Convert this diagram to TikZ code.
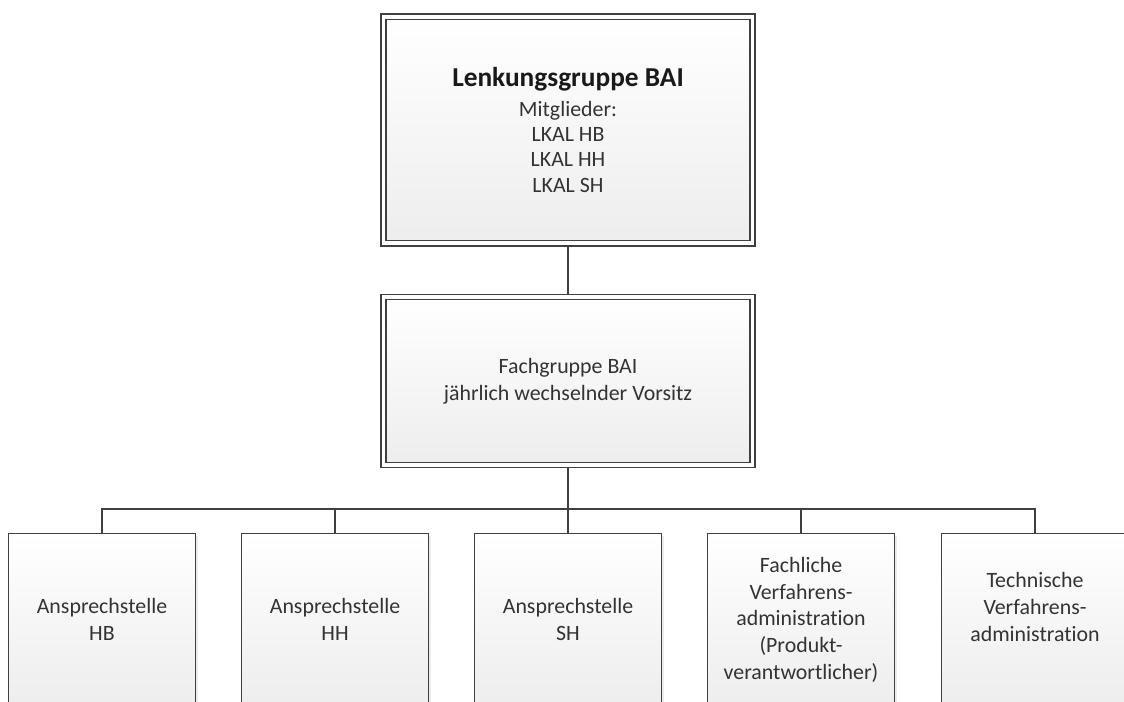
\documentclass[tikz,border=0pt]{standalone}
\usepackage{fontspec}
\setmainfont{Carlito}[Ligatures=NoCommon]
\usetikzlibrary{shadows,backgrounds,positioning}

\begin{document}
\begin{tikzpicture}[x=0.75pt,y=-0.75pt,
      every node/.append style={font=\fontsize{16.4}{20}\selectfont,text=black!80,align=center},
      line/.style={draw=black!75,line width=1.3pt}]
  \tikzstyle{box} = [rectangle,draw=black!75,line width=1.1pt,inner sep=0pt,
      top color=white,bottom color=black!7,
      drop shadow={shadow xshift=1.8pt,shadow yshift=-1.8pt,opacity=0.25,fill=black!30}]
  \tikzstyle{dbox} = [box,double=white,double distance=2.9pt,minimum width=276.75pt]
  \tikzstyle{leaf} = [box,minimum width=140pt,minimum height=129.75pt,anchor=north]
  \useasboundingbox (0,0) rectangle (1124,702);
  \clip (0,0) rectangle (1124,702);
  \node (lg) [dbox,minimum height=170pt,font=\fontsize{16.4}{19}\selectfont] at (568,130)
    {{\fontsize{20.5}{24}\selectfont\bfseries\color{black!90}Lenkungsgruppe BAI}\\[3pt]
     Mitglieder:\\ LKAL HB\\ LKAL HH\\ LKAL SH};
  \node (fg) [dbox,minimum height=126pt] at (568,381)
    {Fachgruppe BAI\\ jährlich wechselnder Vorsitz};
  \node (as1) [leaf] at (102,532.5) {Ansprechstelle\\ HB};
  \node (as2) [leaf] at (335,532.5) {Ansprechstelle\\ HH};
  \node (as3) [leaf] at (568,532.5) {Ansprechstelle\\ SH};
  \node (fva) [leaf] at (801,532.5) {Fachliche\\ Verfahrens-\\ administration\\ (Produkt-\\ verantwortlicher)};
  \node (tva) [leaf,text depth=19pt] at (1035,532.5) {Technische\\ Verfahrens-\\ administration};
  \coordinate (bus) at (568,509);
  \begin{scope}[on background layer]
    \draw[line] (lg) -- (fg);
    \draw[line] (fg) -- (bus);
    \foreach \n in {as1,as2,as3,fva,tva}
      \draw[line] (bus) -| (\n.north);
  \end{scope}
\end{tikzpicture}
\end{document}
